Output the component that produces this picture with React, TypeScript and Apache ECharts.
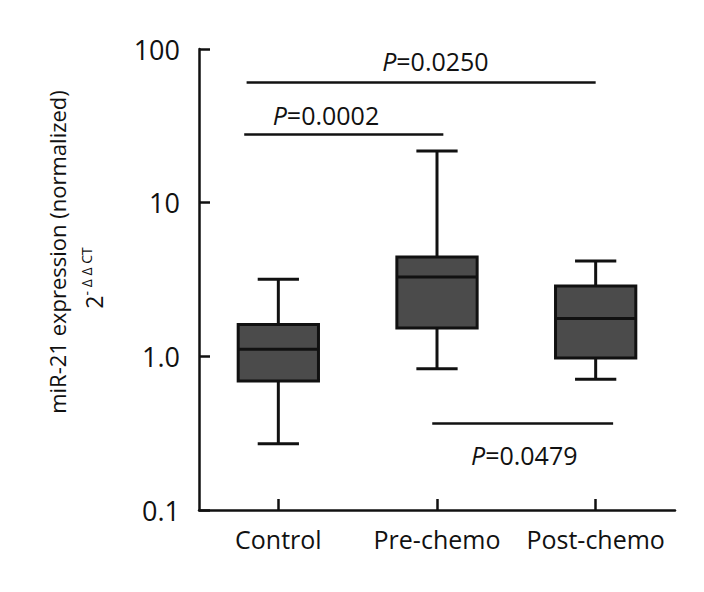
import React, { useEffect, useRef } from "react";
import * as echarts from "echarts";

const categories = ["Control", "Pre-chemo", "Post-chemo"];
// [min, Q1, median, Q3, max]
const boxValues: number[][] = [
  [0.27, 0.69, 1.11, 1.61, 3.17],
  [0.83, 1.53, 3.28, 4.43, 21.7],
  [0.71, 0.975, 1.76, 2.87, 4.17],
];
const yTickLabels: Record<string, string> = { "0.1": "0.1", "1": "1.0", "10": "10", "100": "100" };

// significance bars: [xStart, xEnd, y] on a 0..3 value scale aligned to categories
const sigBars: number[][] = [
  [0.3, 2.5, 60.6],
  [0.285, 1.54, 27.8],
  [1.47, 2.61, 0.366],
];
const sigLabels = ["0.0250", "0.0002", "0.0479"];
const sigLabelPos: number[][] = [
  [1.49, 84],
  [0.8, 37],
  [2.05, 0.227],
];

const FONT = "'Open Sans', 'Noto Sans', sans-serif";
const INK = "#111111";

export default function App() {
  const ref = useRef<HTMLDivElement>(null);
  useEffect(() => {
    if (!ref.current) return;
    const chart = echarts.init(ref.current, undefined, { renderer: "svg" });

    const lineSeries = sigBars.map((b) => ({
      type: "line",
      xAxisIndex: 1,
      yAxisIndex: 0,
      data: [
        [b[0], b[2]],
        [b[1], b[2]],
      ],
      symbol: "none",
      lineStyle: { color: INK, width: 2.5 },
      silent: true,
      z: 3,
    }));

    const labelSeries = {
      type: "scatter",
      xAxisIndex: 1,
      yAxisIndex: 0,
      symbolSize: 0,
      silent: true,
      itemStyle: { opacity: 1, color: INK },
      data: sigLabelPos.map((p, i) => ({
        value: p,
        label: {
          show: true,
          position: "inside",
          color: INK,
          opacity: 1,
          formatter: "{i|P}{n|=" + sigLabels[i] + "}",
          rich: {
            i: { fontFamily: FONT, fontSize: 25, fontStyle: "italic", color: INK },
            n: { fontFamily: FONT, fontSize: 25, color: INK },
          },
        },
      })),
    };

    chart.setOption({
      animation: false,
      backgroundColor: "#ffffff",
      grid: { left: 199, right: 29, top: 49, bottom: 82, containLabel: false },
      xAxis: [
        {
          type: "category",
          data: categories,
          boundaryGap: true,
          axisLine: { show: true, lineStyle: { color: INK, width: 2.5 } },
          axisTick: { show: true, inside: true, alignWithLabel: true, length: 11, lineStyle: { color: INK, width: 2.5 } },
          axisLabel: { color: INK, fontFamily: FONT, fontSize: 25, margin: 16, interval: 0, hideOverlap: false },
          splitLine: { show: false },
        },
        {
          type: "value",
          min: 0,
          max: 3,
          show: false,
        },
      ],
      yAxis: {
        type: "log",
        logBase: 10,
        min: 0.1,
        max: 100,
        axisLine: { show: true, lineStyle: { color: INK, width: 2.5 } },
        axisTick: { show: true, inside: true, length: 11, lineStyle: { color: INK, width: 2.5 } },
        axisLabel: {
          color: INK,
          fontFamily: FONT,
          fontSize: 27,
          margin: 19,
          formatter: (v: number) => yTickLabels[String(+v.toPrecision(3))] ?? String(v),
        },
        splitLine: { show: false },
        minorTick: { show: false },
      },
      graphic: [
        {
          type: "text",
          x: 57,
          y: 252,
          rotation: Math.PI / 2,
          style: {
            text: "miR-21 expression (normalized)",
            fontFamily: FONT,
            fontSize: 22,
            fill: INK,
            align: "center",
            verticalAlign: "middle",
          },
        },
        {
          type: "text",
          x: 92,
          y: 278,
          rotation: Math.PI / 2,
          style: {
            text: "{b|2}{s|- \u0394 \u0394 CT}",
            align: "center",
            verticalAlign: "middle",
            rich: {
              b: { fontFamily: FONT, fontSize: 23, fill: INK, verticalAlign: "bottom", lineHeight: 26 },
              s: { fontFamily: FONT, fontSize: 14, fill: INK, verticalAlign: "top", lineHeight: 26, padding: [0, 0, 12, 0] },
            },
          },
        },
      ],
      series: [
        {
          type: "custom",
          xAxisIndex: 0,
          yAxisIndex: 0,
          encode: { x: 0, y: [1, 2, 3, 4, 5] },
          data: boxValues.map((b, i) => [i, ...b]),
          renderItem: (params: any, api: any) => {
            const idx = api.value(0);
            const vals = [1, 2, 3, 4, 5].map((k) => api.value(k));
            const pts = vals.map((v) => api.coord([idx, v]));
            const cx = pts[0][0];
            const band = api.size([1, 0])[0];
            const hw = band * 0.253;
            const cw = band * 0.13;
            const yMin = pts[0][1];
            const yQ1 = pts[1][1];
            const yMed = pts[2][1];
            const yQ3 = pts[3][1];
            const yMax = pts[4][1];
            const stroke = { stroke: INK, lineWidth: 3 };
            return {
              type: "group",
              children: [
                { type: "line", shape: { x1: cx, y1: yMax, x2: cx, y2: yQ3 }, style: stroke },
                { type: "line", shape: { x1: cx, y1: yQ1, x2: cx, y2: yMin }, style: stroke },
                { type: "line", shape: { x1: cx - cw, y1: yMax, x2: cx + cw, y2: yMax }, style: stroke },
                { type: "line", shape: { x1: cx - cw, y1: yMin, x2: cx + cw, y2: yMin }, style: stroke },
                {
                  type: "rect",
                  shape: { x: cx - hw, y: yQ3, width: hw * 2, height: yQ1 - yQ3 },
                  style: { fill: "#4b4b4b", stroke: INK, lineWidth: 3 },
                },
                { type: "line", shape: { x1: cx - hw, y1: yMed, x2: cx + hw, y2: yMed }, style: stroke },
              ],
            };
          },
          silent: true,
          z: 2,
        },
        ...lineSeries,
        labelSeries,
      ],
    });
    return () => chart.dispose();
  }, []);
  return <div ref={ref} style={{ width: 704, height: 592, position: "absolute", left: 0, top: 0 }} />;
}
